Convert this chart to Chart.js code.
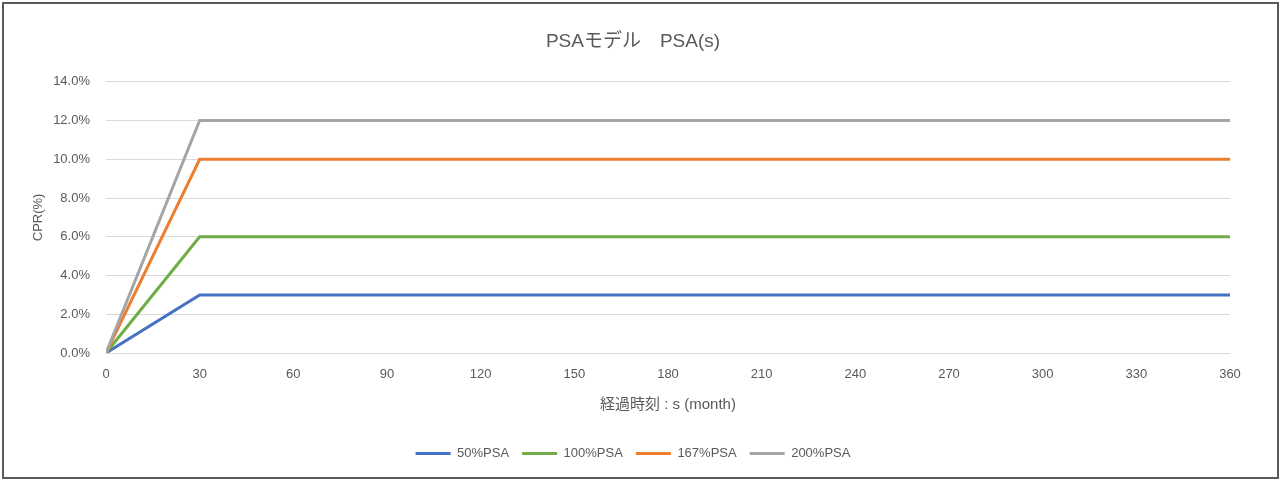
<!DOCTYPE html>
<html>
<head>
<meta charset="utf-8">
<script src="https://cdn.jsdelivr.net/npm/chart.js@4.4.1/dist/chart.umd.min.js"></script>
<style>
  html, body { margin: 0; padding: 0; background: #fff; }
  #wrap { width: 1281px; height: 481px; }
</style>
</head>
<body>
<div id="wrap"><canvas id="myChart" width="1281" height="481"></canvas></div>
<script>
const months = [0, 30, 360];

const psa50 = [0, 3, 3];
const psa100 = [0, 6, 6];
const psa167 = [0, 10, 10];
const psa200 = [0, 12, 12];

const seriesNames = ['50%PSA', '100%PSA', '167%PSA', '200%PSA'];
const seriesColors = ['#4472C4', '#70AD47', '#ED7D31', '#A5A5A5'];

const xTicks = [0, 30, 60, 90, 120, 150, 180, 210, 240, 270, 300, 330, 360];
const yTicks = [0, 2, 4, 6, 8, 10, 12, 14];

const FONT = "'Liberation Sans', 'Noto Sans CJK JP', sans-serif";
const TEXT = '#595959';

const toPoints = (vals) => vals.map((v, i) => ({ x: months[i], y: v }));

// frame round the whole chart, like the excel chart border
const framePlugin = {
  id: 'frame',
  beforeDraw(chart) {
    const ctx = chart.ctx;
    ctx.save();
    ctx.fillStyle = '#fff';
    ctx.fillRect(0, 0, chart.width, chart.height);
    ctx.strokeStyle = '#5a5a5a';
    ctx.lineWidth = 2;
    ctx.strokeRect(3, 3, chart.width - 6, chart.height - 6);
    ctx.restore();
  }
};

const data = {
  datasets: [psa50, psa100, psa167, psa200].map((vals, i) => ({
    label: seriesNames[i],
    data: toPoints(vals),
    borderColor: seriesColors[i],
    backgroundColor: seriesColors[i],
    borderWidth: 3,
    pointRadius: 0,
    tension: 0,
    order: 4 - i,
  }))
};

const config = {
  type: 'line',
  data,
  plugins: [framePlugin],
  options: {
    responsive: false,
    animation: false,
    layout: { padding: { left: 36, right: 51, top: 0, bottom: 11 } },
    plugins: {
      title: {
        display: true,
        text: 'PSAモデル　PSA(s)',
        color: TEXT,
        font: { family: FONT, size: 19, weight: 'normal' },
        padding: { top: 30, bottom: 29 },
      },
      legend: {
        position: 'bottom',
        labels: {
          usePointStyle: true,
          pointStyle: 'line',
          pointStyleWidth: 35,
          color: TEXT,
          font: { family: FONT, size: 13 },
          padding: 13,
          sort: (a, b) => a.datasetIndex - b.datasetIndex,
        }
      },
      tooltip: { enabled: false },
    },
    scales: {
      x: {
        type: 'linear',
        min: 0,
        max: 360,
        afterBuildTicks: (scale) => { scale.ticks = xTicks.map(v => ({ value: v })); },
        afterFit: (scale) => { scale.height = 81; },
        grid: { display: false, drawTicks: false },
        border: { display: false },
        ticks: { color: TEXT, font: { family: FONT, size: 13 }, padding: 14, maxRotation: 0 },
        title: {
          display: true,
          text: '経過時刻 : s (month)',
          color: TEXT,
          font: { family: FONT, size: 15 },
          padding: { top: 6, bottom: 20 },
        }
      },
      y: {
        min: 0,
        max: 14,
        afterBuildTicks: (scale) => { scale.ticks = yTicks.map(v => ({ value: v })); },
        afterFit: (scale) => { scale.width = 70; },
        grid: { color: '#D9D9D9', lineWidth: 1, drawTicks: false },
        border: { display: false },
        ticks: {
          color: TEXT,
          font: { family: FONT, size: 13 },
          padding: 16,
          callback: (v) => v.toFixed(1) + '%',
        },
        title: {
          display: true,
          text: 'CPR(%)',
          color: TEXT,
          font: { family: FONT, size: 13 },
          padding: { top: -5, bottom: 0 },
        }
      }
    }
  }
};

var myChart = new Chart(document.getElementById('myChart'), config);
</script>
</body>
</html>
